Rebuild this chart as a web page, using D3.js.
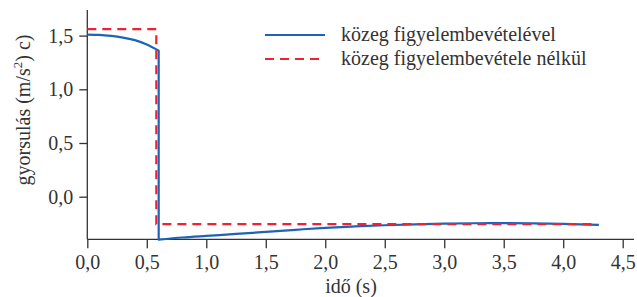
<!DOCTYPE html>
<meta charset="utf-8">
<html>
<head>
    <script src="https://d3js.org/d3.v7.min.js"></script>
    <style>
        body { margin: 0; background: #fff; }
        svg text { font-family: 'Liberation Serif', 'DejaVu Serif', serif; fill: #333; }
        .axis path, .axis line { stroke: #333; stroke-width: 1.3; }
        .axis text { font-size: 20px; }
    </style>
</head>
<body>
    <svg width="637" height="297"></svg>
    <script>
        // blue: with medium (közeg figyelembevételével)
        const blueT = [0, 0.1, 0.2, 0.3, 0.4, 0.5, 0.6, 0.6, 0.8, 1.0, 1.25, 1.5, 1.75, 2.0, 2.25, 2.5, 2.75, 3.0, 3.25, 3.5, 3.75, 4.0, 4.3];
        const blueA = [1.51, 1.507, 1.497, 1.481, 1.458, 1.418, 1.36, -0.40, -0.38, -0.365, -0.347, -0.327, -0.308, -0.29, -0.277, -0.266, -0.257, -0.251, -0.247, -0.246, -0.248, -0.253, -0.262];
        // red dashed: without medium
        const redT = [0, 0.58, 0.58, 4.28];
        const redA = [1.56, 1.56, -0.255, -0.255];

        const xTicks = [0, 0.5, 1, 1.5, 2, 2.5, 3, 3.5, 4, 4.5];
        const yTicks = [0, 0.5, 1, 1.5];
        const legendLabels = ["közeg figyelembevételével", "közeg figyelembevétele nélkül"];

        const svg = d3.select("svg");
        const x = d3.scaleLinear().domain([0, 4.5]).range([87.3, 622.7]);
        const y = d3.scaleLinear().domain([0, 1.5]).range([196.7, 35.6]);
        const fmt = d => d3.format(".1f")(d).replace(".", ",");

        // axes
        const xAx = svg.append("g").attr("class", "axis")
            .attr("transform", `translate(0,${y(-0.397)})`)
            .call(d3.axisBottom(x).tickValues(xTicks).tickSize(9).tickSizeOuter(0).tickPadding(5).tickFormat(fmt));
        xAx.select(".domain").attr("d", `M${x(0)},0H634`);
        xAx.selectAll("text").attr("dy", "0.8em");

        const yAx = svg.append("g").attr("class", "axis")
            .attr("transform", `translate(${x(0)},0)`)
            .call(d3.axisLeft(y).tickValues(yTicks).tickSize(8).tickSizeOuter(0).tickPadding(6).tickFormat(fmt));
        yAx.select(".domain").attr("d", `M0,10V${y(-0.397)}`);

        const line = d3.line().x(d => x(d[0])).y(d => y(d[1]));
        const smooth = d3.line().x(d => x(d[0])).y(d => y(d[1])).curve(d3.curveMonotoneX);

        // blue drawn as two smooth pieces joined by the drop at t = 0.6
        const blue = blueT.map((t, i) => [t, blueA[i]]);
        const p1 = smooth(blue.slice(0, 7));
        const p2 = smooth(blue.slice(7));
        svg.append("path")
            .attr("fill", "none").attr("stroke", "#1f63b8").attr("stroke-width", 2.2)
            .attr("stroke-linejoin", "round")
            .attr("d", p1 + "L" + p2.slice(1));

        svg.append("path")
            .datum(redT.map((t, i) => [t, redA[i]]))
            .attr("fill", "none").attr("stroke", "#ee2233").attr("stroke-width", 2.2)
            .attr("stroke-dasharray", "9,6")
            .attr("d", line);

        // legend
        const leg = svg.append("g");
        leg.append("line").attr("x1", 265).attr("x2", 325).attr("y1", 35).attr("y2", 35)
            .attr("stroke", "#1f63b8").attr("stroke-width", 2.2);
        leg.append("line").attr("x1", 265).attr("x2", 325).attr("y1", 59).attr("y2", 59)
            .attr("stroke", "#ee2233").attr("stroke-width", 2.2).attr("stroke-dasharray", "9,6");
        legendLabels.forEach((s, i) => {
            leg.append("text").attr("x", 341).attr("y", 41 + i * 24)
                .style("font-size", "20px").text(s);
        });

        // axis titles
        svg.append("text").attr("x", x(2.25) - 4).attr("y", 293)
            .attr("text-anchor", "middle").style("font-size", "20px").text("idő (s)");

        const yl = svg.append("text")
            .attr("transform", "translate(30,110) rotate(-90)")
            .attr("text-anchor", "middle").style("font-size", "20px");
        yl.append("tspan").text("gyorsulás (m/s");
        yl.append("tspan").attr("dy", -8).style("font-size", "13px").text("2");
        yl.append("tspan").attr("dy", 8).text(")  c)");
    </script>
</body>
</html>
